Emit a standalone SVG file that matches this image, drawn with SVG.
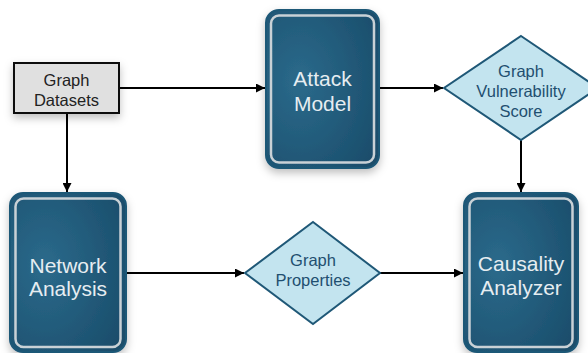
<svg xmlns="http://www.w3.org/2000/svg" width="588" height="353" viewBox="0 0 588 353">
  <defs>
    <radialGradient id="panelFill" cx="0.3" cy="0.45" r="0.8">
      <stop offset="0" stop-color="#2b6a8b"/>
      <stop offset="1" stop-color="#1a4d6b"/>
    </radialGradient>
    <filter id="shadow" x="-20%" y="-20%" width="140%" height="150%">
      <feDropShadow dx="0" dy="4" stdDeviation="4" flood-color="#000" flood-opacity="0.25"/>
    </filter>
    <marker id="arrow" viewBox="0 0 10 10" refX="10" refY="5" markerWidth="9" markerHeight="9" markerUnits="userSpaceOnUse" orient="auto">
      <path d="M0,0 L10,5 L0,10 z" fill="#000"/>
    </marker>
  </defs>
  <style>
    .panel-outer { fill: url(#panelFill); stroke: #1f5877; stroke-width: 2; }
    .panel-inner { fill: none; stroke: #c9d1d6; stroke-width: 2.5; }
    .panel-text { font-family: "Liberation Sans", Arial, sans-serif; font-size: 21px; fill: #e6edf1; text-anchor: middle; dominant-baseline: central; }
    .diamond { fill: #c3e4ef; stroke: #1f5877; stroke-width: 2; }
    .diamond-text { font-family: "Liberation Sans", Arial, sans-serif; font-size: 16.5px; fill: #1f4f70; text-anchor: middle; dominant-baseline: central; }
    .data-box { fill: #e0e0e0; stroke: #111; stroke-width: 2; }
    .data-text { font-family: "Liberation Sans", Arial, sans-serif; font-size: 16.5px; fill: #222; text-anchor: middle; dominant-baseline: central; }
    .link { stroke: #000; stroke-width: 2; fill: none; marker-end: url(#arrow); }
  </style>
  <rect width="588" height="353" fill="#ffffff"/>

  <g id="connectors">
    <line class="link" x1="119" y1="88" x2="265" y2="88"/>
    <line class="link" x1="379" y1="88" x2="443" y2="88"/>
    <line class="link" x1="521" y1="140" x2="521" y2="192"/>
    <line class="link" x1="67" y1="113" x2="67" y2="192"/>
    <line class="link" x1="126" y1="273" x2="244" y2="273"/>
    <line class="link" x1="380" y1="273" x2="463" y2="273"/>
  </g>

  <g id="graph-datasets">
    <rect class="data-box" x="14" y="63" width="105" height="50" filter="url(#shadow)"/>
    <text class="data-text" x="66.5" y="80">Graph</text>
    <text class="data-text" x="66.5" y="100">Datasets</text>
  </g>

  <g id="attack-model">
    <rect class="panel-outer" x="266" y="10" width="113" height="158" rx="13" filter="url(#shadow)"/>
    <rect class="panel-inner" x="271" y="15.5" width="103" height="147" rx="8"/>
    <text class="panel-text" x="322.5" y="78">Attack</text>
    <text class="panel-text" x="322.5" y="103">Model</text>
  </g>

  <g id="graph-vulnerability-score">
    <polygon class="diamond" points="521,36 598,88 521,140 444,88"/>
    <text class="diamond-text" x="521" y="71">Graph</text>
    <text class="diamond-text" x="521" y="91">Vulnerability</text>
    <text class="diamond-text" x="521" y="111">Score</text>
  </g>

  <g id="network-analysis">
    <rect class="panel-outer" x="10" y="193" width="116" height="159" rx="13" filter="url(#shadow)"/>
    <rect class="panel-inner" x="15.5" y="198.5" width="105" height="148.5" rx="8"/>
    <text class="panel-text" x="68" y="265">Network</text>
    <text class="panel-text" x="68" y="288">Analysis</text>
  </g>

  <g id="graph-properties">
    <polygon class="diamond" points="313,222 380,273 313,324 245,273"/>
    <text class="diamond-text" x="313" y="260">Graph</text>
    <text class="diamond-text" x="313" y="280">Properties</text>
  </g>

  <g id="causality-analyzer">
    <rect class="panel-outer" x="464" y="193" width="114" height="159" rx="13" filter="url(#shadow)"/>
    <rect class="panel-inner" x="469.5" y="198.5" width="103" height="148.5" rx="8"/>
    <text class="panel-text" x="521" y="263">Causality</text>
    <text class="panel-text" x="521" y="287">Analyzer</text>
  </g>
</svg>
